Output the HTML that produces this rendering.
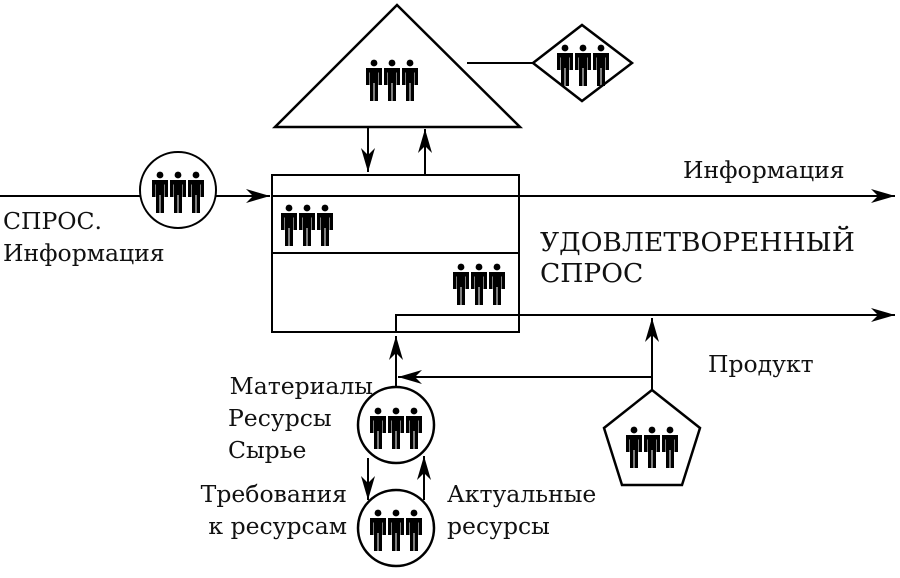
<!DOCTYPE html>
<html><head><meta charset="utf-8"><style>
html,body{margin:0;padding:0;background:#fff}
text{font-family:"DejaVu Serif","Liberation Serif",serif;font-size:23.5px;fill:#111}
</style></head><body>
<svg width="900" height="573" viewBox="0 0 900 573" xmlns="http://www.w3.org/2000/svg">
<defs>
<g id="f">
<circle cx="8" cy="3" r="3.4"/>
<rect x="0" y="8" width="16" height="4.5"/>
<rect x="0" y="8" width="3.5" height="17"/>
<rect x="12.5" y="8" width="3.5" height="17"/>
<rect x="4" y="8" width="8" height="15"/>
<rect x="4" y="8" width="3.5" height="33"/>
<rect x="8.5" y="8" width="3.5" height="33"/>
</g>
<g id="p"><use href="#f" x="0"/><use href="#f" x="18"/><use href="#f" x="36"/></g>
<marker id="a" markerWidth="26" markerHeight="14" refX="24" refY="7" orient="auto" markerUnits="userSpaceOnUse">
<path d="M0,0 L24,7 L0,14 L7,7 Z" fill="#000"/></marker>
</defs>
<g stroke="#000" fill="none" stroke-width="2">
<polygon points="397,5 275,127 520,127" stroke-width="2.5"/>
<polygon points="533,63 582,25 632,63 582,101" stroke-width="2.5"/>
<line x1="467" y1="63" x2="533" y2="63"/>
<line x1="368" y1="127" x2="368" y2="172" marker-end="url(#a)"/>
<line x1="425" y1="174" x2="425" y2="129" marker-end="url(#a)"/>
<rect x="272" y="175" width="247" height="157"/>
<line x1="272" y1="253" x2="519" y2="253"/>
<line x1="0" y1="196" x2="140" y2="196"/>
<line x1="216" y1="196" x2="270" y2="196" marker-end="url(#a)"/>
<line x1="272" y1="196" x2="895" y2="196" marker-end="url(#a)"/>
<circle cx="178" cy="190" r="38"/>
<polyline points="396,332 396,315 895,315" marker-end="url(#a)"/>
<line x1="396" y1="387" x2="396" y2="336" marker-end="url(#a)"/>
<line x1="652" y1="377" x2="398" y2="377" marker-end="url(#a)"/>
<line x1="652" y1="390" x2="652" y2="318" marker-end="url(#a)"/>
<circle cx="396" cy="425" r="38" stroke-width="2.5"/>
<circle cx="396" cy="528" r="38" stroke-width="2.5"/>
<line x1="368" y1="458" x2="368" y2="500" marker-end="url(#a)"/>
<line x1="424" y1="500" x2="424" y2="456" marker-end="url(#a)"/>
<polygon points="652,390 700,428 682,485 622,485 604,428" stroke-width="2.5"/>
</g>
<g fill="#000">
<use href="#p" x="366" y="60"/>
<use href="#p" x="557" y="45"/>
<use href="#p" x="152" y="172"/>
<use href="#p" x="281" y="205"/>
<use href="#p" x="453" y="264"/>
<use href="#p" x="370" y="408"/>
<use href="#p" x="370" y="510"/>
<use href="#p" x="626" y="427"/>
</g>
<text x="3" y="229">СПРОС.</text>
<text x="3" y="261">Информация</text>
<text x="683" y="178">Информация</text>
<text x="540" y="251" style="font-size:26.5px">УДОВЛЕТВОРЕННЫЙ</text>
<text x="540" y="282" style="font-size:26.5px">СПРОС</text>
<text x="708" y="372">Продукт</text>
<text x="373" y="394" text-anchor="end">Материалы</text>
<text x="228" y="426">Ресурсы</text>
<text x="228" y="458">Сырье</text>
<text x="347" y="502" text-anchor="end">Требования</text>
<text x="347" y="534" text-anchor="end">к ресурсам</text>
<text x="447" y="502">Актуальные</text>
<text x="447" y="534">ресурсы</text>
</svg>
</body></html>
